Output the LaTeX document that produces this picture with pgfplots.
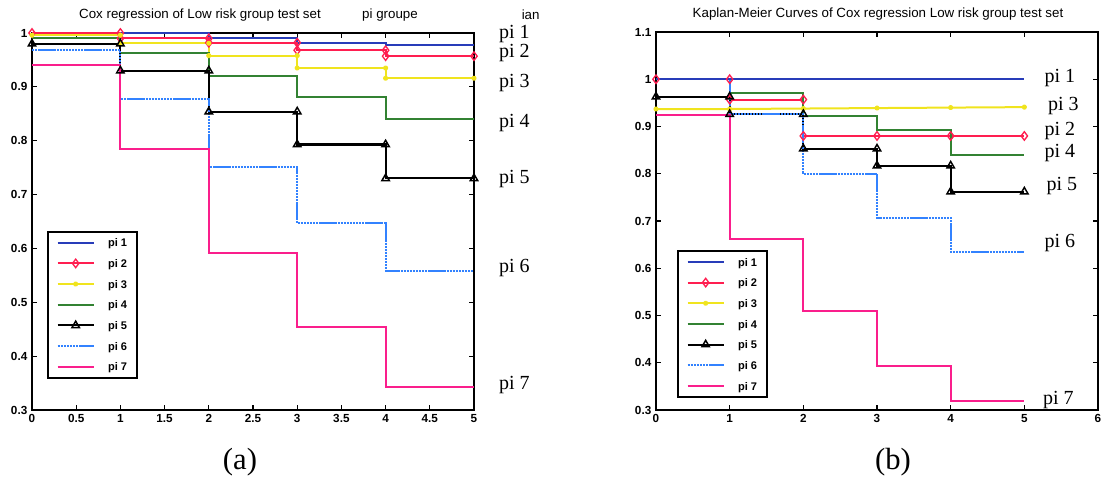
\documentclass[border=0pt]{standalone}
\usepackage{fontspec}
\usepackage{pgfplots}
\pgfplotsset{compat=1.18}
\newfontfamily\arial{Liberation Sans}
\newfontfamily\tnr{Liberation Serif}
\definecolor{cA}{RGB}{40,60,185}
\definecolor{cB}{RGB}{255,30,80}
\definecolor{cC}{RGB}{240,228,30}
\definecolor{cD}{RGB}{50,130,50}
\definecolor{cF}{RGB}{50,130,255}
\definecolor{cG}{RGB}{250,30,140}
\tikzset{lab/.style={font=\tnr\fontsize{15}{15}\selectfont, anchor=west, inner sep=0pt}}
\pgfplotsset{
  kmaxis/.style={
    scale only axis, width=331.5pt, anchor=south west, clip=false,
    axis line style={line width=1.3pt,black},
    tick align=inside, major tick length=3.5pt,
    every tick/.style={black,line width=0.9pt},
    xtick pos=both, ytick pos=both,
    ticklabel style={font=\arial\bfseries\fontsize{8.8}{9}\selectfont},
    /pgf/number format/assume math mode=true,
    legend cell align=left,
    legend image code/.code={\draw[mark repeat=2,mark phase=2,##1] plot coordinates {(0pt,0pt) (13.5pt,0pt) (27pt,0pt)};},
    legend style={draw=black, line width=1.4pt, fill=white,
      font=\arial\bfseries\fontsize{8.3}{9}\selectfont,
      inner xsep=6.5pt, inner ysep=4pt, row sep=7.2pt,
      nodes={inner sep=1pt, text height=6.3pt, text depth=0pt},
      column 2/.style={nodes={text width=19pt, align=left}},
      /tikz/every odd column/.append style={column sep=9pt}},
  },
  s1/.style={cA, line width=1.5pt, mark=none},
  s2/.style={cB, line width=1.5pt, mark=diamond, mark size=3.2pt, mark options={solid,line width=1pt}},
  s3/.style={cC, line width=1.5pt, mark=asterisk, mark size=1.8pt},
  s4/.style={cD, line width=1.5pt, mark=none},
  s5/.style={black, line width=1.6pt, mark=triangle, mark size=3.2pt, mark options={solid,line width=1.1pt}},
  s6/.style={cF, line width=1.5pt, mark=none, dash pattern=on 1.8pt off 0.5pt},
  s7/.style={cG, line width=1.5pt, mark=none},
}
\begin{document}
\begin{tikzpicture}
\useasboundingbox (0,0) rectangle (831.75pt,358.5pt);
% ---------- (a) ----------
\begin{axis}[kmaxis, at={(24pt,51pt)}, height=282.75pt,
  xmin=0, xmax=5, ymin=0.3, ymax=1,
  xtick={0,0.5,...,5}, ytick={0.3,0.4,...,1.0},
  legend style={at={(0.034,0.475)}, anchor=north west}]
\addplot[s1] coordinates {(0,1)(2,1)(2,0.991)(3,0.991)(3,0.982)(4,0.982)(4,0.978)(5,0.978)};
\addplot[s2] coordinates {(0,1)(1,1)(1,0.99)(2,0.99)(2,0.982)(3,0.982)(3,0.968)(4,0.968)(4,0.957)(5,0.957)};
\addplot[s3] coordinates {(0,0.996)(1,0.996)(1,0.981)(2,0.981)(2,0.958)(3,0.958)(3,0.935)(4,0.935)(4,0.916)(5,0.916)};
\addplot[s4] coordinates {(0,0.99)(1,0.99)(1,0.962)(2,0.962)(2,0.921)(3,0.921)(3,0.881)(4,0.881)(4,0.84)(5,0.84)};
\addplot[s5] coordinates {(0,0.98)(1,0.98)(1,0.93)(2,0.93)(2,0.854)(3,0.854)(3,0.793)(4,0.793)(4,0.73)(5,0.73)};
\addplot[s6] coordinates {(0,0.968)(1,0.968)(1,0.877)(2,0.877)(2,0.752)(3,0.752)(3,0.647)(4,0.647)(4,0.559)(5,0.559)};
\addplot[s7] coordinates {(0,0.941)(1,0.941)(1,0.785)(2,0.785)(2,0.591)(3,0.591)(3,0.455)(4,0.455)(4,0.342)(5,0.342)};
\legend{pi 1,pi 2,pi 3,pi 4,pi 5,pi 6,pi 7}
\node[lab] at (axis cs:5.28,0.998) {pi 1};
\node[lab] at (axis cs:5.28,0.962) {pi 2};
\node[lab] at (axis cs:5.28,0.908) {pi 3};
\node[lab] at (axis cs:5.28,0.833) {pi 4};
\node[lab] at (axis cs:5.28,0.728) {pi 5};
\node[lab] at (axis cs:5.28,0.563) {pi 6};
\node[lab] at (axis cs:5.28,0.347) {pi 7};
\end{axis}
% ---------- (b) ----------
\begin{axis}[kmaxis, at={(492pt,51pt)}, height=283.5pt,
  xmin=0, xmax=6, ymin=0.3, ymax=1.1,
  xtick={0,1,...,6}, ytick={0.3,0.4,...,1.1},
  legend style={at={(0.0475,0.423)}, anchor=north west}]
\addplot[s1] coordinates {(0,1)(5,1)};
\addplot[s2] coordinates {(0,1)(1,1)(1,0.957)(2,0.957)(2,0.88)(3,0.88)(4,0.88)(5,0.88)};
\addplot[s3] coordinates {(0,0.937)(1,0.937)(2,0.938)(3,0.939)(4,0.94)(5,0.941)};
\addplot[s4] coordinates {(0,1)(1,1)(1,0.97)(2,0.97)(2,0.922)(3,0.922)(3,0.893)(4,0.893)(4,0.84)(5,0.84)};
\addplot[s5] coordinates {(0,0.963)(1,0.963)(1,0.926)(2,0.926)(2,0.853)(3,0.853)(3,0.817)(4,0.817)(4,0.762)(5,0.762)};
\addplot[s6] coordinates {(0,1)(1,1)(1,0.926)(2,0.926)(2,0.8)(3,0.8)(3,0.707)(4,0.707)(4,0.635)(5,0.635)};
\addplot[s7] coordinates {(0,0.925)(1,0.925)(1,0.662)(2,0.662)(2,0.51)(3,0.51)(3,0.394)(4,0.394)(4,0.318)(5,0.318)};
\addplot[s1, forget plot] coordinates {(0,1)(5,1)};
\legend{pi 1,pi 2,pi 3,pi 4,pi 5,pi 6,pi 7}
\node[lab] at (axis cs:5.27,1.003) {pi 1};
\node[lab] at (axis cs:5.32,0.943) {pi 3};
\node[lab] at (axis cs:5.27,0.890) {pi 2};
\node[lab] at (axis cs:5.27,0.844) {pi 4};
\node[lab] at (axis cs:5.30,0.774) {pi 5};
\node[lab] at (axis cs:5.27,0.653) {pi 6};
\node[lab] at (axis cs:5.25,0.321) {pi 7};
\end{axis}
% titles and captions
\node[font=\arial\fontsize{10}{11}\selectfont] at (150pt,347.25pt) {Cox regression of Low risk group test set};
\node[font=\arial\fontsize{10}{11}\selectfont] at (292.5pt,347.25pt) {pi groupe};
\node[font=\arial\fontsize{10}{11}\selectfont] at (398pt,347.25pt) {ian};
\node[font=\arial\fontsize{10}{11}\selectfont] at (658.5pt,348pt) {Kaplan-Meier Curves of Cox regression Low risk group test set};
\node[font=\tnr\fontsize{23}{23}\selectfont] at (180pt,12pt) {(a)};
\node[font=\tnr\fontsize{23}{23}\selectfont] at (669.75pt,12pt) {(b)};
\end{tikzpicture}
\end{document}
